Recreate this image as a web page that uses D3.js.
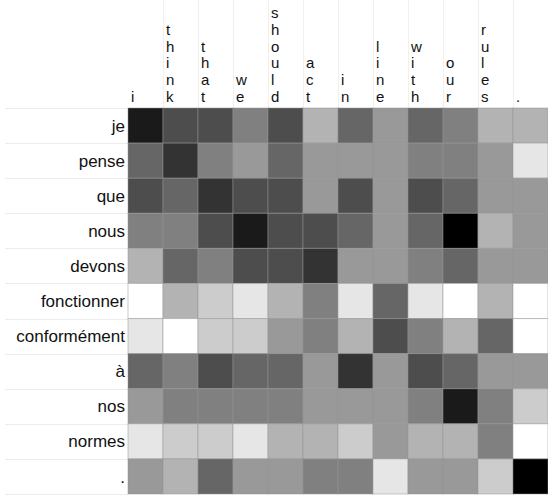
<!DOCTYPE html>
<html>
<head>
<meta charset="utf-8">
<script src="https://cdn.jsdelivr.net/npm/d3@7"></script>
<style>
  html, body { margin: 0; padding: 0; background: #fff; }
  svg { display: block; }
  text { font-family: "Liberation Sans", Arial, Helvetica, sans-serif; fill: #111; }
</style>
</head>
<body>
<svg id="chart" width="548" height="498"></svg>
<script>
// Source (English) tokens: columns
const sourceTokens = ["i", "think", "that", "we", "should", "act", "in", "line", "with", "our", "rules", "."];
// Target (French) tokens: rows
const targetTokens = ["je", "pense", "que", "nous", "devons", "fonctionner", "conformément", "à", "nos", "normes", "."];

// Attention weights (0 = white, 1 = black), one array per target row
const wJe           = [0.9, 0.7, 0.7, 0.5, 0.7, 0.3, 0.6, 0.4, 0.6, 0.5, 0.3, 0.3];
const wPense        = [0.6, 0.8, 0.5, 0.4, 0.6, 0.4, 0.4, 0.4, 0.5, 0.5, 0.4, 0.1];
const wQue          = [0.7, 0.6, 0.8, 0.7, 0.7, 0.4, 0.7, 0.4, 0.7, 0.6, 0.4, 0.4];
const wNous         = [0.5, 0.5, 0.7, 0.9, 0.7, 0.7, 0.6, 0.4, 0.6, 1.0, 0.3, 0.4];
const wDevons       = [0.3, 0.6, 0.5, 0.7, 0.7, 0.8, 0.4, 0.4, 0.5, 0.6, 0.4, 0.4];
const wFonctionner  = [0.0, 0.3, 0.2, 0.1, 0.3, 0.5, 0.1, 0.6, 0.1, 0.0, 0.3, 0.0];
const wConformement = [0.1, 0.0, 0.2, 0.2, 0.4, 0.5, 0.3, 0.7, 0.5, 0.3, 0.6, 0.0];
const wA            = [0.6, 0.5, 0.7, 0.6, 0.6, 0.4, 0.8, 0.4, 0.7, 0.6, 0.4, 0.4];
const wNos          = [0.4, 0.5, 0.5, 0.5, 0.5, 0.4, 0.4, 0.4, 0.5, 0.9, 0.5, 0.2];
const wNormes       = [0.1, 0.2, 0.2, 0.1, 0.3, 0.3, 0.2, 0.4, 0.3, 0.3, 0.5, 0.0];
const wDot          = [0.4, 0.3, 0.6, 0.4, 0.4, 0.5, 0.5, 0.1, 0.4, 0.4, 0.2, 1.0];

const weights = [wJe, wPense, wQue, wNous, wDevons, wFonctionner, wConformement, wA, wNos, wNormes, wDot];

const svg = d3.select("#chart");
const gridLeft = 128, gridRight = 548, gridTop = 108, gridBottom = 494;
const fontSize = 17;
const headFontSize = 15;

const x = d3.scaleBand().domain(d3.range(sourceTokens.length)).range([gridLeft, gridRight]);
const y = d3.scaleBand().domain(d3.range(targetTokens.length)).range([gridTop, gridBottom]);
const color = d3.scaleLinear().domain([0, 1]).range(["#ffffff", "#000000"]);

// Header vertical separators
svg.append("g").selectAll("line")
  .data(d3.range(1, sourceTokens.length))
  .join("line")
  .attr("x1", i => Math.round(x(i)) + 0.5)
  .attr("x2", i => Math.round(x(i)) + 0.5)
  .attr("y1", 0)
  .attr("y2", gridTop)
  .attr("stroke", "#f0f0f0")
  .attr("stroke-width", 1);

// Row label separators
svg.append("g").selectAll("line")
  .data(d3.range(targetTokens.length + 1))
  .join("line")
  .attr("x1", 5)
  .attr("x2", gridLeft)
  .attr("y1", i => Math.round(gridTop + i * y.step()) + 0.5)
  .attr("y2", i => Math.round(gridTop + i * y.step()) + 0.5)
  .attr("stroke", "#ececec")
  .attr("stroke-width", 1);

// Column labels: letters stacked vertically, bottom-aligned, one text per letter
const lineH = 16.8;
const lastBaseline = 102;
const colG = svg.append("g");
sourceTokens.forEach((tok, i) => {
  const letters = Array.from(tok);
  const n = letters.length;
  colG.append("g").selectAll("text")
    .data(letters)
    .join("text")
    .attr("x", x(i) + 3)
    .attr("y", (d, k) => lastBaseline - (n - 1 - k) * lineH)
    .attr("font-size", headFontSize)
    .attr("text-anchor", "start")
    .text(d => d);
});

// Row labels
svg.append("g").selectAll("text")
  .data(targetTokens)
  .join("text")
  .attr("x", gridLeft - 3)
  .attr("y", (d, i) => y(i) + y.bandwidth() / 2)
  .attr("dy", "0.36em")
  .attr("font-size", fontSize)
  .attr("text-anchor", "end")
  .text(d => d);

// Cells
const cells = [];
weights.forEach((row, r) => row.forEach((v, c) => cells.push({ r, c, v })));
svg.append("g").selectAll("rect")
  .data(cells)
  .join("rect")
  .attr("x", d => x(d.c))
  .attr("y", d => y(d.r))
  .attr("width", x.bandwidth())
  .attr("height", y.bandwidth())
  .attr("fill", d => color(d.v))
  .attr("stroke", "rgba(150,150,150,0.5)")
  .attr("stroke-width", 1);
</script>
</body>
</html>
